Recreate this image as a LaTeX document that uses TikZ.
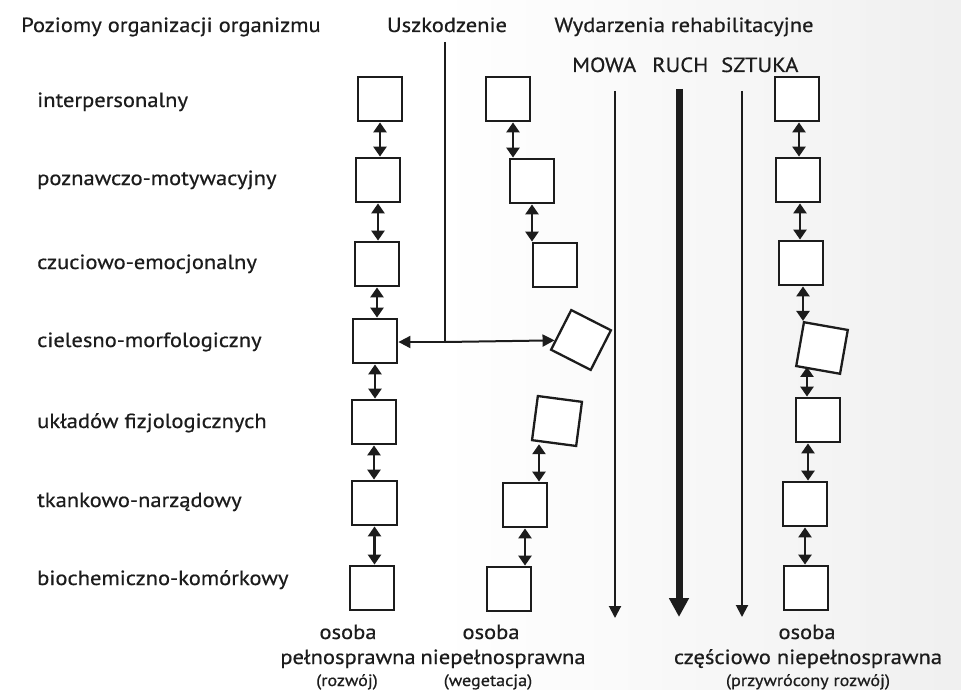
\documentclass[tikz,border=0pt]{standalone}
\usepackage{fontspec}
\setmainfont{PT Sans}[FakeStretch=1.1, FakeBold=0.6]
\usetikzlibrary{arrows.meta}
\definecolor{ink}{HTML}{1C1C1C}
\begin{document}
\begin{tikzpicture}[x=1pt,y=-1pt,
  lvl/.style={draw=ink, line width=2.3pt, fill=white, minimum size=44.5pt, inner sep=0pt},
  link/.style={draw=ink, line width=2.6pt,
    {Triangle[length=10pt,width=13pt]}-{Triangle[length=10pt,width=13pt]}},
  harm/.style={draw=ink, line width=2pt, -{Triangle[length=12pt,width=12pt]}},
  flow/.style={draw=ink, line width=2pt, -{Triangle[length=12pt,width=12pt]}},
  mainflow/.style={draw=ink, line width=7pt, -{Triangle[length=19pt,width=19pt]}},
  head/.style={text=ink, font=\fontsize{20.5}{24}\selectfont, inner sep=0pt},
  rowlbl/.style={text=ink, font=\fontsize{20.5}{24}\selectfont, inner sep=0pt, anchor=base west},
  caps/.style={text=ink, font=\fontsize{20.5}{24}\selectfont, inner sep=0pt, anchor=base west},
  foot/.style={text=ink, font=\fontsize{20.5}{25}\selectfont, inner sep=0pt, anchor=base},
  note/.style={text=ink, font=\fontsize{16.5}{19}\selectfont, inner sep=0pt, anchor=base}
]
\useasboundingbox (0,0) rectangle (961,690);
\shade[left color=white, right color=black!6] (440,0) rectangle (961,690);

% column headings
\node[head, anchor=base west] (hlevels) at (21,32) {Poziomy organizacji organizmu};
\node[head, anchor=base] (hdamage) at (447,32) {Uszkodzenie};
\node[head, anchor=base] (hrehab) at (684,32) {Wydarzenia rehabilitacyjne};
\node[caps] (tmowa) at (572,72) {MOWA};
\node[caps] (truch) at (652,72) {RUCH};
\node[caps] (tsztuka) at (721,72) {SZTUKA};

% organisation levels
\node[rowlbl] (l1) at (37,107) {interpersonalny};
\node[rowlbl] (l2) at (37,185) {poznawczo-motywacyjny};
\node[rowlbl] (l3) at (37,269) {czuciowo-emocjonalny};
\node[rowlbl] (l4) at (37,347) {cielesno-morfologiczny};
\node[rowlbl] (l5) at (37,428) {układów fizjologicznych};
\node[rowlbl] (l6) at (37,507) {tkankowo-narządowy};
\node[rowlbl] (l7) at (37,585) {biochemiczno-komórkowy};

% rehabilitation streams
\coordinate (mtop) at (615,91);  \coordinate (mend) at (615,618);
\coordinate (rtop) at (679,89);  \coordinate (rend) at (679,617);
\coordinate (stop) at (742,91);  \coordinate (send) at (742,617);
\draw[flow] (mtop) -- (mend);
\draw[mainflow] (rtop) -- (rend);
\draw[flow] (stop) -- (send);

% full ability column
\node[lvl] (a1) at (380,99) {};
\node[lvl] (a2) at (378,180) {};
\node[lvl] (a3) at (377,264) {};
\node[lvl] (a4) at (375,341) {};
\node[lvl] (a5) at (374,422) {};
\node[lvl] (a6) at (374.5,503) {};
\node[lvl] (a7) at (372,588) {};
\foreach \u/\v in {a1/a2,a2/a3,a3/a4,a4/a5,a5/a6,a6/a7}
  \draw[link] (\u.south) -- (\u.south |- \v.north);

% disability column
\node[lvl] (b1) at (508,99) {};
\node[lvl] (b2) at (532,181) {};
\node[lvl] (b3) at (555,265) {};
\node[lvl, rotate=-27] (b4) at (581,340) {};
\node[lvl, rotate=-7.5] (b5) at (557,421) {};
\node[lvl] (b6) at (525,505) {};
\node[lvl] (b7) at (509,589) {};
\draw[link] ([xshift=5pt]b1.south) -- ([xshift=5pt]b1.south |- b2.north);
\draw[link] (b2.south) -- (b2.south |- b3.north);
\draw[link] ([xshift=14pt]b6.north |- b5.south) -- ([xshift=14pt]b6.north);
\draw[link] (b6.south) -- (b6.south |- b7.north);

% partial ability column
\node[lvl] (c1) at (797,99) {};
\node[lvl] (c2) at (798,180) {};
\node[lvl] (c3) at (801,263) {};
\node[lvl, rotate=-10] (c4) at (822,348) {};
\node[lvl] (c5) at (818,420) {};
\node[lvl] (c6) at (805,504) {};
\node[lvl] (c7) at (806,588) {};
\draw[link] ([xshift=2pt]c1.south) -- ([xshift=2pt]c1.south |- c2.north);
\draw[link] ([xshift=2pt]c2.south) -- ([xshift=2pt]c2.south |- c3.north);
\draw[link] ([xshift=2pt]c3.south) -- ([xshift=2pt]c3.south |- c4.north west);
\draw[link] ([xshift=-11pt]c5.north |- c4.south west) -- ([xshift=-11pt]c5.north);
\draw[link] ([xshift=-10pt]c5.south) -- ([xshift=-10pt]c5.south |- c6.north);
\draw[link] (c6.south) -- (c6.south |- c7.north);

% damage
\coordinate (dtop) at (445,42);
\coordinate (dhit) at (445,342);
\draw[draw=ink, line width=2pt] (dtop) -- (dhit);
\draw[harm] (dhit) -- (dhit -| a4.east);
\draw[harm] (dhit) -- (b4);

% outcomes
\node[foot] (o1a) at (348,639) {osoba};
\node[foot] (o1b) at (348,664) {pełnosprawna};
\node[note] (o1c) at (347,686) {(rozwój)};
\node[foot] (o2a) at (491,639) {osoba};
\node[foot] (o2b) at (503,664) {niepełnosprawna};
\node[note] (o2c) at (488,686) {(wegetacja)};
\node[foot] (o3a) at (807,639) {osoba};
\node[foot] (o3b) at (808,664) {częściowo niepełnosprawna};
\node[note] (o3c) at (808,686) {(przywrócony rozwój)};
\end{tikzpicture}
\end{document}
